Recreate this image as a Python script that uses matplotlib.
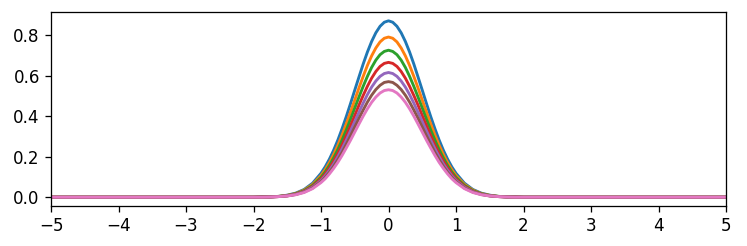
import matplotlib
matplotlib.use("Agg")
import matplotlib.pyplot as plt

# sample positions (x) and curve heights
x = [-5.0,
     -2.0, -1.875, -1.75, -1.625, -1.5, -1.375, -1.25, -1.125, -1.0,
     -0.9375, -0.875, -0.8125, -0.75, -0.6875, -0.625, -0.5625, -0.5,
     -0.4375, -0.375, -0.3125, -0.25, -0.1875, -0.125, -0.0625, 0.0,
     0.0625, 0.125, 0.1875, 0.25, 0.3125, 0.375, 0.4375, 0.5,
     0.5625, 0.625, 0.6875, 0.75, 0.8125, 0.875, 0.9375, 1.0,
     1.125, 1.25, 1.375, 1.5, 1.625, 1.75, 1.875, 2.0,
     5.0]

y_c0 = [0.0,
        0.000, 0.001, 0.002, 0.004, 0.010, 0.020, 0.038, 0.069, 0.118,
        0.150, 0.188, 0.232, 0.282, 0.338, 0.398, 0.462, 0.528,
        0.593, 0.657, 0.716, 0.768, 0.811, 0.843, 0.863, 0.870,
        0.863, 0.843, 0.811, 0.768, 0.716, 0.657, 0.593, 0.528,
        0.462, 0.398, 0.338, 0.282, 0.232, 0.188, 0.150, 0.118,
        0.069, 0.038, 0.020, 0.010, 0.004, 0.002, 0.001, 0.000,
        0.0]
y_c1 = [0.0,
        0.000, 0.001, 0.002, 0.004, 0.009, 0.018, 0.035, 0.063, 0.107,
        0.136, 0.171, 0.211, 0.256, 0.307, 0.362, 0.420, 0.479,
        0.539, 0.596, 0.650, 0.697, 0.736, 0.766, 0.784, 0.790,
        0.784, 0.766, 0.736, 0.697, 0.650, 0.596, 0.539, 0.479,
        0.420, 0.362, 0.307, 0.256, 0.211, 0.171, 0.136, 0.107,
        0.063, 0.035, 0.018, 0.009, 0.004, 0.002, 0.001, 0.000,
        0.0]
y_c2 = [0.0,
        0.000, 0.001, 0.002, 0.004, 0.008, 0.017, 0.032, 0.058, 0.098,
        0.125, 0.157, 0.194, 0.235, 0.282, 0.332, 0.385, 0.440,
        0.494, 0.547, 0.596, 0.640, 0.676, 0.703, 0.719, 0.725,
        0.719, 0.703, 0.676, 0.640, 0.596, 0.547, 0.494, 0.440,
        0.385, 0.332, 0.282, 0.235, 0.194, 0.157, 0.125, 0.098,
        0.058, 0.032, 0.017, 0.008, 0.004, 0.002, 0.001, 0.000,
        0.0]
y_c3 = [0.0,
        0.000, 0.001, 0.001, 0.003, 0.007, 0.015, 0.029, 0.053, 0.090,
        0.115, 0.144, 0.178, 0.216, 0.258, 0.304, 0.353, 0.403,
        0.454, 0.502, 0.547, 0.587, 0.620, 0.645, 0.660, 0.665,
        0.660, 0.645, 0.620, 0.587, 0.547, 0.502, 0.454, 0.403,
        0.353, 0.304, 0.258, 0.216, 0.178, 0.144, 0.115, 0.090,
        0.053, 0.029, 0.015, 0.007, 0.003, 0.001, 0.001, 0.000,
        0.0]
y_c4 = [0.0,
        0.000, 0.001, 0.001, 0.003, 0.007, 0.014, 0.027, 0.049, 0.083,
        0.106, 0.133, 0.164, 0.200, 0.239, 0.282, 0.327, 0.373,
        0.419, 0.464, 0.506, 0.543, 0.573, 0.596, 0.610, 0.615,
        0.610, 0.596, 0.573, 0.543, 0.506, 0.464, 0.419, 0.373,
        0.327, 0.282, 0.239, 0.200, 0.164, 0.133, 0.106, 0.083,
        0.049, 0.027, 0.014, 0.007, 0.003, 0.001, 0.001, 0.000,
        0.0]
y_c5 = [0.0,
        0.000, 0.001, 0.001, 0.003, 0.006, 0.013, 0.025, 0.045, 0.077,
        0.098, 0.123, 0.152, 0.185, 0.221, 0.261, 0.303, 0.346,
        0.389, 0.430, 0.469, 0.503, 0.531, 0.552, 0.566, 0.570,
        0.566, 0.552, 0.531, 0.503, 0.469, 0.430, 0.389, 0.346,
        0.303, 0.261, 0.221, 0.185, 0.152, 0.123, 0.098, 0.077,
        0.045, 0.025, 0.013, 0.006, 0.003, 0.001, 0.001, 0.000,
        0.0]
y_c6 = [0.0,
        0.000, 0.000, 0.001, 0.003, 0.006, 0.012, 0.023, 0.042, 0.072,
        0.091, 0.115, 0.142, 0.172, 0.206, 0.243, 0.281, 0.321,
        0.361, 0.400, 0.436, 0.468, 0.494, 0.514, 0.526, 0.530,
        0.526, 0.514, 0.494, 0.468, 0.436, 0.400, 0.361, 0.321,
        0.281, 0.243, 0.206, 0.172, 0.142, 0.115, 0.091, 0.072,
        0.042, 0.023, 0.012, 0.006, 0.003, 0.001, 0.000, 0.000,
        0.0]

curves = [y_c0, y_c1, y_c2, y_c3, y_c4, y_c5, y_c6]
x_ticks = [-5, -4, -3, -2, -1, 0, 1, 2, 3, 4, 5]

plt.rcParams["font.size"] = 10.5

DPI = 115
fig = plt.figure(figsize=(747 / DPI, 246 / DPI), dpi=DPI)
ax = fig.add_axes([51 / 747, 1 - 206 / 246, 675 / 747, 194 / 246])

for y in curves:
    ax.plot(x, y, linewidth=1.8)

ax.set_xlim(-5, 5)
ax.set_xticks(x_ticks)

fig.savefig("out.png", dpi=DPI)
